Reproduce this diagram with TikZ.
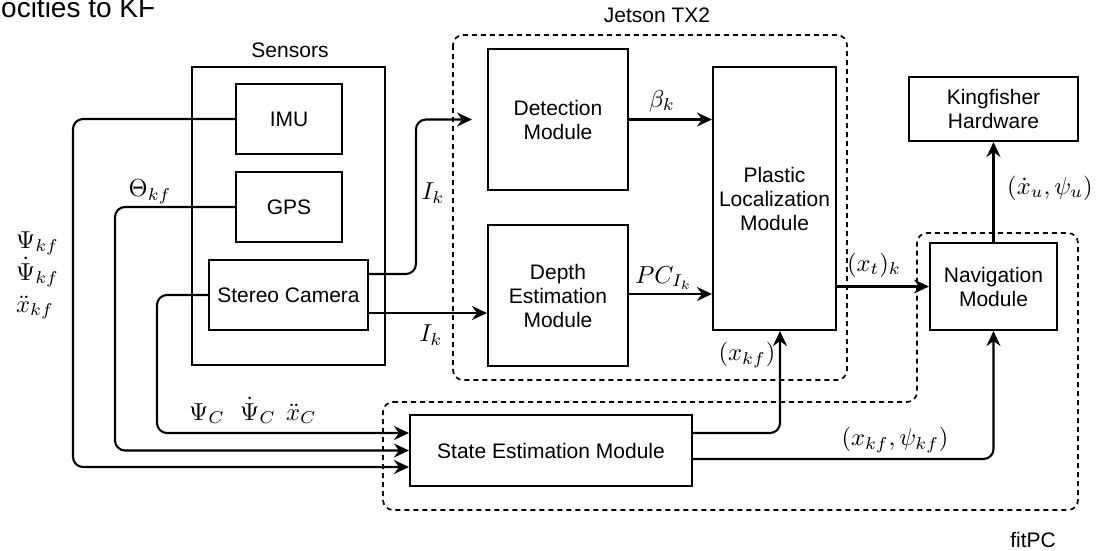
\documentclass[tikz,border=0pt]{standalone}
\usepackage{graphicx}
\usepackage{fontspec}
\setmainfont{Liberation Sans}
\usetikzlibrary{arrows.meta,calc}
% math labels set at 10pt and enlarged
\newcommand{\sig}[1]{\scalebox{2.45}{$#1$}}
\begin{document}
\begin{tikzpicture}[x=1pt,y=-1pt,
  box/.style={draw, line width=2.1pt, rectangle, align=center, inner sep=0pt,
    font=\fontsize{21}{24}\selectfont},
  conn/.style={line width=2.1pt, rounded corners=10pt},
  arr/.style={conn, -{Stealth[length=15pt,width=14pt,inset=5pt]}},
  region/.style={draw, line width=1.7pt, dash pattern=on 5pt off 4pt, rounded corners=10pt},
  lbl/.style={font=\fontsize{21}{24}\selectfont, inner sep=0pt},
  mlbl/.style={font=\normalsize, inner sep=0pt}]
\useasboundingbox (0,0) rectangle (1096,550);

% caption fragment at the top edge
\node[anchor=base west, inner sep=0pt, font=\fontsize{28}{32}\selectfont] (cut) at (1,17) {ocities to KF};

% processing regions
\draw[region] (453,35) rectangle (847,380);
\node[lbl] (jetsonlbl) at (657,15) {Jetson TX2};
\draw[region] (383,402) -- (917,402) -- (917,233) -- (1078,233) -- (1078,510) -- (383,510) -- cycle;
\node[lbl] (fitpclbl) at (1033,540) {fitPC};

% sensors
\node[box, minimum width=193pt, minimum height=298pt] (sensors) at (288.5,216) {};
\node[lbl] (sensorslbl) at (290,50) {Sensors};
\node[box, minimum width=106pt, minimum height=70pt] (imu) at (289,119) {IMU};
\node[box, minimum width=106pt, minimum height=70pt] (gps) at (289,207) {GPS};
\node[box, minimum width=159pt, minimum height=70pt] (stereo) at (288.5,295) {Stereo Camera};

% modules
\node[box, minimum width=140pt, minimum height=141pt] (det) at (558,119.5) {Detection\\Module};
\node[box, minimum width=140pt, minimum height=141pt] (depth) at (558,295.5) {Depth\\Estimation\\Module};
\node[box, minimum width=123pt, minimum height=263pt] (plastic) at (774.5,198.5) {Plastic\\Localization\\Module};
\node[box, minimum width=169pt, minimum height=64pt] (king) at (993.5,109) {Kingfisher\\Hardware};
\node[box, minimum width=127pt, minimum height=87pt] (nav) at (993.5,286.5) {Navigation\\Module};
\node[box, minimum width=282pt, minimum height=71pt] (state) at (551,450.5) {State Estimation Module};

% sensor feeds into the state estimator
\draw[arr] (imu.west) -| (73,467) -- ($(state.west)+(0,16.5)$);
\draw[arr] (gps.west) -| (115,450.5) -- (state.west);
\draw[arr] (stereo.west) -| (157,433) -- ($(state.west)+(0,-17.5)$);

% camera images
\coordinate (detin) at ($(det.west)+(-15,0)$);
\draw[arr] ($(stereo.east)+(0,-21)$) -| ($(detin)+(-56,0)$) -- (detin);
\draw[arr] ($(stereo.east)+(0,18)$) -- ($(depth.west)+(0,17.5)$);

% module outputs
\draw[arr] (det.east) -- (det.east -| plastic.west);
\draw[arr] ($(depth.east)+(0,-1.5)$) -- ($(depth.east -| plastic.west)+(0,-1.5)$);
\draw[arr] (nav.west -| plastic.east) -- (nav.west);
\draw[arr] (nav.north) -- (king.south);
\draw[arr] ($(state.east)+(0,-17.5)$) -| ($(plastic.south)+(5.5,0)$);
\draw[arr] ($(state.east)+(0,8.5)$) -| (nav.south);

% signal labels
\node[mlbl] (thetakf) at (150,192) {\sig{\Theta_{kf}}};
\node[mlbl, anchor=base west] (psikf) at (16,248) {\sig{\Psi_{kf}}};
\node[mlbl, anchor=base west] (dpsikf) at (16,280) {\sig{\dot\Psi_{kf}}};
\node[mlbl, anchor=base west] (ddxkf) at (16,312) {\sig{\ddot x_{kf}}};
\node[mlbl, anchor=base west] (psic) at (189,420) {\sig{\Psi_C}};
\node[mlbl, anchor=base west] (dpsic) at (240,420) {\sig{\dot\Psi_C}};
\node[mlbl, anchor=base west] (ddxc) at (286,420) {\sig{\ddot x_C}};
\node[mlbl] (ikup) at (433,193) {\sig{I_k}};
\node[mlbl] (iklo) at (431,335) {\sig{I_k}};
\node[mlbl] (betak) at (662,101) {\sig{\beta_k}};
\node[mlbl] (pcik) at (664,278) {\sig{PC_{I_k}}};
\node[mlbl] (xkf) at (747,355) {\sig{(x_{kf})}};
\node[mlbl] (xtk) at (874,265) {\sig{(x_t)_k}};
\node[mlbl] (xupsiu) at (1050,188) {\sig{(\dot x_u,\psi_u)}};
\node[mlbl] (xkfpsikf) at (895,440) {\sig{(x_{kf},\psi_{kf})}};
\end{tikzpicture}
\end{document}
